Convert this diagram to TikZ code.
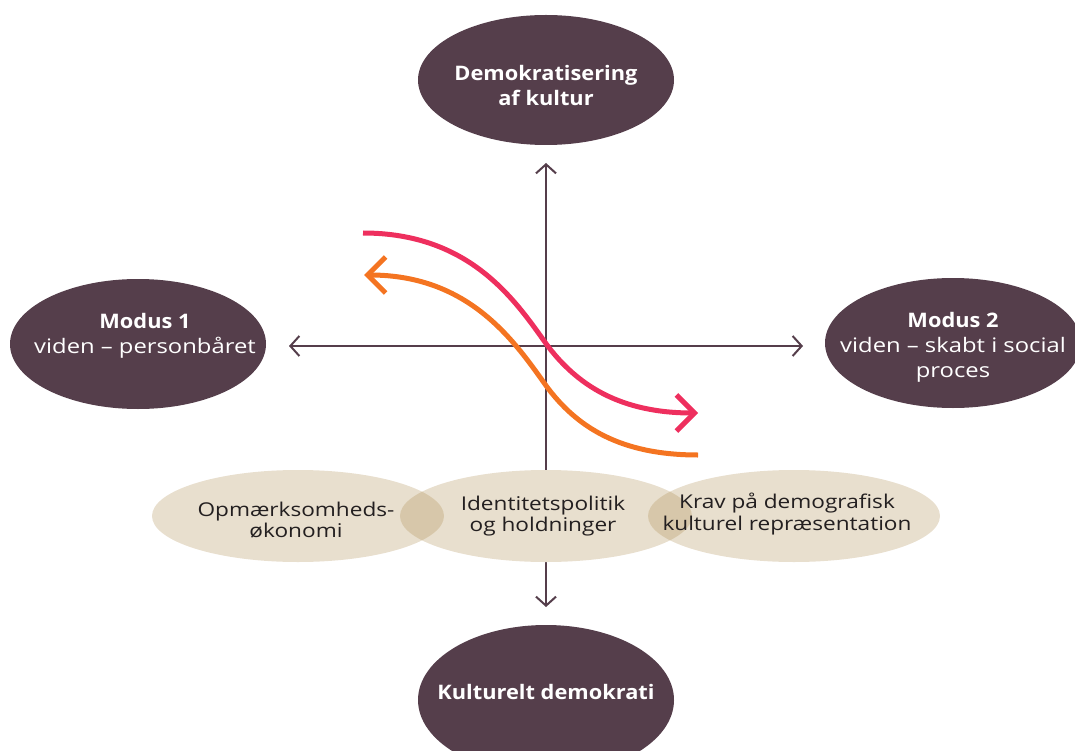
\documentclass[tikz,border=0pt]{standalone}
\usepackage{fontspec}
\setmainfont{Open Sans}[FakeStretch=1.19, BoldFeatures={FakeStretch=1.09}]
\usetikzlibrary{shapes.geometric,arrows.meta}
\definecolor{plum}{RGB}{85,62,75}
\definecolor{beige}{RGB}{167,131,63}
\definecolor{pinkc}{RGB}{238,47,94}
\definecolor{orangec}{RGB}{244,116,33}
\definecolor{txt}{RGB}{35,31,32}
\tikzset{
  darkell/.style={ellipse, fill=plum, inner sep=0pt, minimum width=256pt, minimum height=130pt},
  darktxt/.style={text=white, align=center, inner sep=0pt, font=\fontsize{20}{25}\selectfont},
  lightell/.style={ellipse, fill=beige, fill opacity=0.25, inner sep=0pt, minimum width=292pt, minimum height=92pt},
  lighttxt/.style={text=txt, align=center, inner sep=0pt, font=\fontsize{19}{21.5}\selectfont},
  axisline/.style={draw=plum, line width=2pt, -{Straight Barb[length=9pt,width=20pt]}},
  curve/.style={line width=5pt}
}
\begin{document}
\begin{tikzpicture}[x=1pt,y=-1pt]
\useasboundingbox (0,0) rectangle (1075,751);
\begin{scope}
\clip (0,0) rectangle (1075,751);
% axes
\coordinate (c) at (546,346);
\coordinate (up) at (546,163);
\coordinate (down) at (546,607);
\coordinate (lt) at (289,346);
\coordinate (rt) at (803,346);
\draw[axisline] (c) -- (up);
\draw[axisline] (c) -- (down);
\draw[axisline] (c) -- (lt);
\draw[axisline] (c) -- (rt);
% dark ellipses
\node[darkell] (top) at (546,80) {};
\node[darkell] (left) at (138,344) {};
\node[darkell] (right) at (953,343) {};
\node[darkell, minimum height=150pt] (bottom) at (546,700) {};
\node[darktxt] (toptxt) at (546,86) {\textbf{Demokratisering}\\\textbf{af kultur}};
\node[darktxt] (lefttxt) at (145,336) {\textbf{Modus 1}\\viden – personbåret};
\node[darktxt] (righttxt) at (953,347) {\textbf{Modus 2}\\viden – skabt i social\\proces};
\node[darktxt] (bottomtxt) at (546,692) {\textbf{Kulturelt demokrati}};
% light ellipses
\foreach \x in {298,546,794} {\fill[white] (\x,516) ellipse [x radius=146, y radius=46];}
\node[lightell] (b1) at (298,516) {};
\node[lightell] (b2) at (546,516) {};
\node[lightell] (b3) at (794,516) {};
\node[lighttxt] (b1txt) at (296,520) {Opmærksomheds-\\økonomi};
\node[lighttxt] (b2txt) at (543,516) {Identitetspolitik\\og holdninger};
\node[lighttxt] (b3txt) at (787,514) {Krav på demografisk\\kulturel repræsentation};
% curves
\draw[curve, draw=pinkc, -{Straight Barb[length=18pt,width=36pt]}] (363,233) .. controls (470,233) and (515,300) .. (547,345) .. controls (577,385) and (620,413) .. (698,413);
\draw[curve, draw=orangec, {Straight Barb[length=18pt,width=36pt]}-] (364,275) .. controls (470,275) and (515,342) .. (547,387) .. controls (577,427) and (620,455) .. (698,455);
\end{scope}
\end{tikzpicture}
\end{document}
